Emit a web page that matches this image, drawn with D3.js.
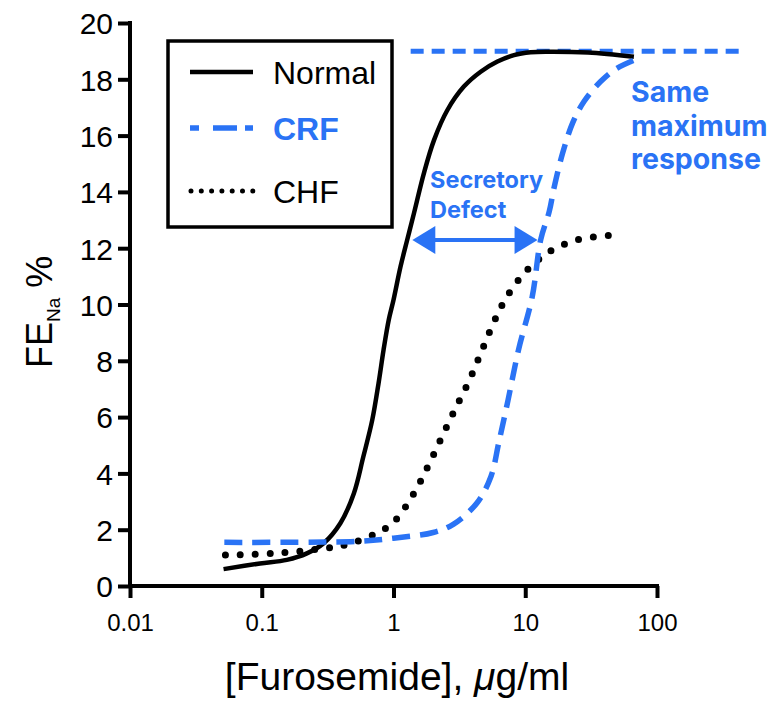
<!DOCTYPE html>
<html><head><meta charset="utf-8">
<script src="https://cdn.jsdelivr.net/npm/d3@7"></script>
<style>body{margin:0;background:#fff}svg{display:block}</style>
</head><body>
<svg id="chart" width="780" height="718"></svg>
<script>
// ---- data ----
const xTicks = [0.01, 0.1, 1, 10, 100];
const xTickLabels = ["0.01", "0.1", "1", "10", "100"];
const yTicks = [0, 2, 4, 6, 8, 10, 12, 14, 16, 18, 20];

const normalX = [0.0513, 0.097, 0.155, 0.22, 0.295, 0.395, 0.5, 0.59, 0.69, 0.77, 0.84, 0.92, 1.0, 1.13, 1.27, 1.43, 1.7, 2.03, 2.56, 3.42, 4.59, 6.15, 8.22, 11, 14.8, 30, 66.8];
const normalY = [0.6, 0.8, 0.93, 1.16, 1.52, 2.23, 3.29, 4.59, 5.9, 7.2, 8.38, 9.45, 10.16, 11.34, 12.29, 13.24, 14.66, 15.84, 16.9, 17.74, 18.27, 18.63, 18.86, 18.96, 18.98, 18.95, 18.8];

const crfX = [0.052, 0.3, 0.6, 1, 2, 2.86, 4.3, 5.5, 6.3, 7.4, 8.9, 11.3, 13.1, 15.2, 16.6, 19.2, 22.9, 28, 37.5, 48.8, 68];
const crfY = [1.55, 1.56, 1.6, 1.7, 1.9, 2.2, 2.95, 3.9, 5.1, 6.6, 8.4, 10.28, 12.3, 13.3, 14.18, 15.37, 16.45, 17.22, 17.93, 18.37, 18.69];

const chfX = [0.053, 0.122, 0.268, 0.45, 0.75, 0.95, 1.14, 1.5, 1.9, 2.4, 3.0, 3.8, 4.7, 5.8, 7.3, 10, 15, 25, 43];
const chfY = [1.1, 1.16, 1.31, 1.48, 1.88, 2.17, 2.58, 3.47, 4.42, 5.43, 6.37, 7.35, 8.38, 9.39, 10.3, 11.15, 11.86, 12.3, 12.45];

const maxRespX = [1.35, 475];
const maxRespY = [19, 19];

const arrowX = [1.39, 12.4];
const arrowY = 12.29;

const legendNames = ["Normal", "CRF", "CHF"];

// ---- layout ----
const BLUE = "#2a73f5";
const svg = d3.select("#chart");
const x = d3.scaleLog().domain([0.01, 100]).range([130, 657]);
const y = d3.scaleLinear().domain([0, 20]).range([586, 23]);
const font = "'Liberation Sans', Arial, sans-serif";

const line = d3.line().x(d => x(d[0])).y(d => y(d[1])).curve(d3.curveCatmullRom.alpha(0.5));
const zip = (a, b) => a.map((v, i) => [v, b[i]]);

// max response line
svg.append("path").attr("d", d3.line().x(d => x(d[0])).y(d => y(d[1]))(zip(maxRespX, maxRespY)))
  .attr("fill", "none").attr("stroke", BLUE).attr("stroke-width", 5).attr("stroke-dasharray", "13,8");

// curves
svg.append("path").attr("d", line(zip(normalX, normalY)))
  .attr("fill", "none").attr("stroke", "#000").attr("stroke-width", 4.5);
const chfPath = svg.append("path").attr("d", line(zip(chfX, chfY)))
  .attr("fill", "none").attr("stroke", "#000").attr("stroke-width", 7)
  .attr("stroke-linecap", "round");
{
  const L = chfPath.node().getTotalLength();
  const n = Math.round(L / 15);
  chfPath.attr("stroke-dasharray", `0,${(L / n) - 0.02}`);
}
svg.append("path").attr("d", line(zip(crfX, crfY)))
  .attr("fill", "none").attr("stroke", BLUE).attr("stroke-width", 5.5).attr("stroke-dasharray", "18,10");

// axes
const xAxis = d3.axisBottom(x).tickValues(xTicks).tickFormat((d, i) => xTickLabels[i]).tickSize(12).tickSizeOuter(0);
const gx = svg.append("g").attr("transform", `translate(0,${y(0)})`).call(xAxis);
gx.select(".domain").attr("stroke-width", 4).attr("d", `M${x(0.01)-2},0H${x(100)+2}`);
gx.selectAll(".tick line").attr("stroke-width", 4);
gx.selectAll(".tick text").attr("font-family", font).attr("font-size", 24).attr("dy", "1.25em");

const yAxis = d3.axisLeft(y).tickValues(yTicks).tickSize(12).tickSizeOuter(0);
const gy = svg.append("g").attr("transform", `translate(${x(0.01)},0)`).call(yAxis);
gy.select(".domain").attr("stroke-width", 4).attr("d", `M0,${y(20)-2}V${y(0)+2}`);
gy.selectAll(".tick line").attr("stroke-width", 4);
gy.selectAll(".tick text").attr("font-family", font).attr("font-size", 30).attr("x", -17).attr("dy", "0.36em");

// axis titles
const xt = svg.append("text").attr("x", 397).attr("y", 690).attr("text-anchor", "middle")
  .attr("font-family", font).attr("font-size", 39);
xt.append("tspan").text("[Furosemide], ");
xt.append("tspan").attr("font-style", "italic").text("μ");
xt.append("tspan").text("g/ml");

const yt = svg.append("text").attr("transform", "translate(52,368) rotate(-90)")
  .attr("font-family", font).attr("font-size", 36);
yt.append("tspan").text("FE");
yt.append("tspan").attr("font-size", 19).attr("dy", 8).text("Na");
yt.append("tspan").attr("dy", -8).text(" %");

// legend
svg.append("rect").attr("x", 168).attr("y", 41).attr("width", 224).attr("height", 186)
  .attr("fill", "none").attr("stroke", "#000").attr("stroke-width", 3.5);
const legY = [72, 128, 191];
svg.append("line").attr("x1", 190).attr("x2", 253).attr("y1", legY[0]).attr("y2", legY[0])
  .attr("stroke", "#000").attr("stroke-width", 4.5);
svg.append("line").attr("x1", 190).attr("x2", 253).attr("y1", legY[1]).attr("y2", legY[1])
  .attr("stroke", BLUE).attr("stroke-width", 5.5).attr("stroke-dasharray", "9,14,24,8");
svg.append("line").attr("x1", 191).attr("x2", 253).attr("y1", legY[2]).attr("y2", legY[2])
  .attr("stroke", "#000").attr("stroke-width", 5).attr("stroke-linecap", "round").attr("stroke-dasharray", "0,10.3");
legendNames.forEach((n, i) => {
  svg.append("text").attr("x", 273).attr("y", legY[i] + 12)
    .attr("font-family", font).attr("font-size", 32)
    .attr("font-weight", i === 1 ? "bold" : "normal")
    .attr("fill", i === 1 ? BLUE : "#000").text(n);
});

// secretory defect arrow
const ax1 = x(arrowX[0]), ax2 = x(arrowX[1]), ay = y(arrowY);
svg.append("line").attr("x1", ax1 + 15).attr("x2", ax2 - 15).attr("y1", ay).attr("y2", ay)
  .attr("stroke", BLUE).attr("stroke-width", 4);
svg.append("path").attr("d", `M${ax1},${ay}L${ax1 + 23},${ay - 14}L${ax1 + 23},${ay + 14}Z`).attr("fill", BLUE);
svg.append("path").attr("d", `M${ax2},${ay}L${ax2 - 23},${ay - 14}L${ax2 - 23},${ay + 14}Z`).attr("fill", BLUE);

const annFont = "Inter, 'Open Sans', sans-serif";
const sd = svg.append("text").attr("font-family", annFont).attr("font-weight", "bold")
  .attr("font-size", 23.5).attr("fill", BLUE);
sd.append("tspan").attr("x", 430).attr("y", 188).text("Secretory");
sd.append("tspan").attr("x", 430).attr("y", 218).text("Defect");

const sm = svg.append("text").attr("font-family", annFont).attr("font-weight", "bold")
  .attr("font-size", 28.5).attr("fill", BLUE);
sm.append("tspan").attr("x", 631).attr("y", 102).text("Same");
sm.append("tspan").attr("x", 631).attr("y", 136).text("maximum");
sm.append("tspan").attr("x", 631).attr("y", 169).text("response");
</script>
</body></html>
